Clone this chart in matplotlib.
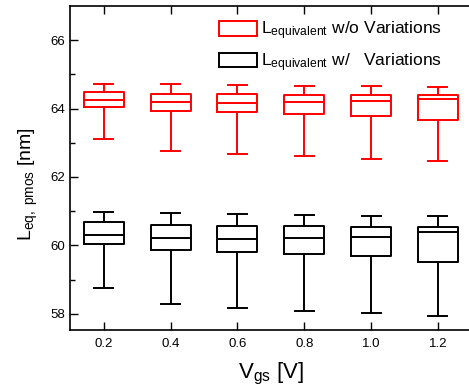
import matplotlib

matplotlib.use("Agg")
import matplotlib.pyplot as plt
from matplotlib.patches import Rectangle

plt.rcParams["font.family"] = ["Liberation Sans", "DejaVu Sans"]
plt.rcParams["mathtext.fontset"] = "custom"
plt.rcParams["mathtext.rm"] = "Liberation Sans"
plt.rcParams["mathtext.it"] = "Liberation Sans:italic"
plt.rcParams["mathtext.bf"] = "Liberation Sans:bold"

# V_gs positions
vgs = [0.2, 0.4, 0.6, 0.8, 1.0, 1.2]
vgs_labels = ["0.2", "0.4", "0.6", "0.8", "1.0", "1.2"]

# L_equivalent without variations (red)
red_whishi = [64.72, 64.71, 64.69, 64.66, 64.65, 64.63]
red_q3 = [64.49, 64.43, 64.41, 64.40, 64.40, 64.40]
red_med = [64.24, 64.18, 64.16, 64.18, 64.21, 64.29]
red_q1 = [64.04, 63.94, 63.89, 63.84, 63.79, 63.67]
red_whislo = [63.11, 62.76, 62.67, 62.60, 62.53, 62.48]

# L_equivalent with variations (black)
blk_whishi = [60.97, 60.94, 60.91, 60.88, 60.86, 60.85]
blk_q3 = [60.67, 60.59, 60.58, 60.56, 60.55, 60.55]
blk_med = [60.30, 60.22, 60.20, 60.21, 60.26, 60.38]
blk_q1 = [60.03, 59.88, 59.82, 59.76, 59.69, 59.52]
blk_whislo = [58.75, 58.28, 58.16, 58.09, 58.02, 57.94]


def stats(lo, q1, med, q3, hi):
    return [
        {"whislo": a, "q1": b, "med": c, "q3": d, "whishi": e, "fliers": []}
        for a, b, c, d, e in zip(lo, q1, med, q3, hi)
    ]


fig = plt.figure(figsize=(4.69, 3.90), dpi=100)
ax = fig.add_axes([0.150, 0.154, 0.855, 0.831])

for data, color in [
    (stats(red_whislo, red_q1, red_med, red_q3, red_whishi), "#ff0000"),
    (stats(blk_whislo, blk_q1, blk_med, blk_q3, blk_whishi), "#000000"),
]:
    props = {"color": color, "linewidth": 1.4}
    ax.bxp(
        data,
        positions=vgs,
        widths=0.12,
        capwidths=0.057,
        showfliers=False,
        boxprops=props,
        whiskerprops=props,
        capprops=props,
        medianprops=props,
        manage_ticks=False,
    )

ax.set_xlim(0.1, 1.3)
ax.set_ylim(57.53, 67.0)
ax.set_xticks(vgs)
ax.set_xticklabels(vgs_labels)
ax.set_yticks([58, 60, 62, 64, 66])
ax.set_yticks([59, 61, 63, 65], minor=True)
ax.tick_params(axis="both", which="major", direction="in", length=6, width=1, labelsize=9.5, top=True)
ax.tick_params(axis="y", which="minor", direction="in", length=3.5, width=1)
ax.tick_params(axis="x", which="major", pad=6)
for s in ax.spines.values():
    s.set_linewidth(1.2)

ax.set_xlabel(r"V$_{\mathregular{gs}}$ [V]", fontsize=16)
ax.set_ylabel(r"L$_{\mathregular{eq,\ pmos}}$ [nm]", fontsize=14)
ax.yaxis.set_label_coords(-0.075, 0.45)
ax.xaxis.set_label_coords(0.5, -0.095)

handles = [
    Rectangle((0, 0), 1, 1, facecolor="none", edgecolor="#ff0000", linewidth=1.4),
    Rectangle((0, 0), 1, 1, facecolor="none", edgecolor="#000000", linewidth=1.4),
]
labels = [
    r"L$_{\mathregular{equivalent}}$ w/o Variations",
    r"L$_{\mathregular{equivalent}}$ w/   Variations",
]
ax.legend(
    handles,
    labels,
    loc="upper left",
    bbox_to_anchor=(0.34, 0.995),
    frameon=False,
    fontsize=12.5,
    handlelength=2.2,
    handleheight=0.9,
    handletextpad=0.2,
    labelspacing=0.5,
    borderaxespad=0.3,
)

fig.savefig("out.png", dpi=100)
